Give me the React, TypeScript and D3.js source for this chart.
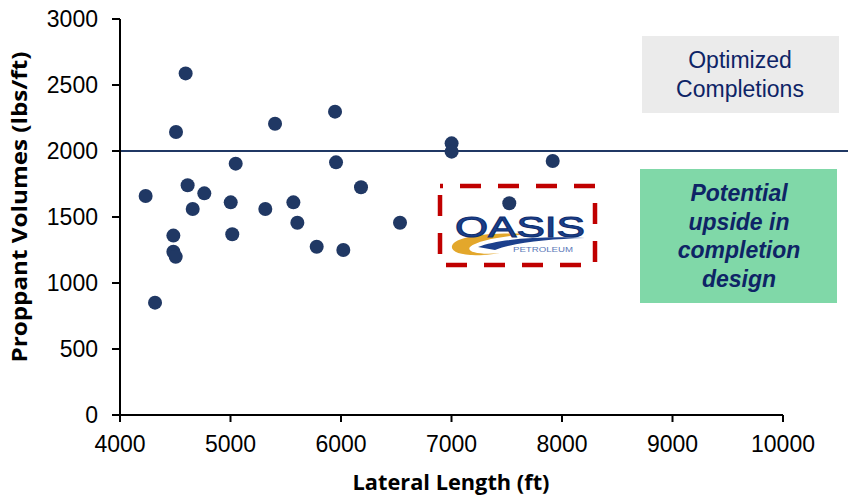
import React from "react";
import * as d3 from "d3";

const lateralLength = [4232, 4594, 4507, 5047, 4612, 4763, 4658, 5002, 4483, 5016, 5403, 5315, 5946, 5955, 6181, 5569, 5605, 6534, 5780, 6021, 4483, 4504, 4317, 7001, 7001, 7916, 7523];
const proppant = [1659, 2588, 2144, 1904, 1740, 1679, 1561, 1611, 1359, 1369, 2207, 1561, 2298, 1914, 1725, 1611, 1457, 1457, 1275, 1250, 1237, 1199, 851, 2058, 1995, 1924, 1604];
const xTicks = [4000, 5000, 6000, 7000, 8000, 9000, 10000];
const yTicks = [0, 500, 1000, 1500, 2000, 2500, 3000];
const referenceLevel = 2000;

const W = 848, H = 495;
const NAVY = "#203864";
const TEXTNAVY = "#0E2466";

export default function App() {
  const x = d3.scaleLinear().domain([4000, 10000]).range([120, 783]);
  const y = d3.scaleLinear().domain([0, 3000]).range([415, 19]);
  const pts = lateralLength.map((v, i) => ({ x: v, y: proppant[i] }));
  const tickFont = "'Liberation Sans', Arial, sans-serif";
  const titleFont = "'Open Sans', sans-serif";
  return (
    <svg width={W} height={H} style={{ position: "absolute", left: 0, top: 0, background: "#fff" }}>
      {/* annotation boxes */}
      <rect x={642} y={36} width={197} height={77} fill="#EBEBEB" />
      <text x={740} y={68} textAnchor="middle" fontFamily={tickFont} fontSize={23} fill={TEXTNAVY}>Optimized</text>
      <text x={740} y={97} textAnchor="middle" fontFamily={tickFont} fontSize={23} fill={TEXTNAVY}>Completions</text>

      <rect x={640} y={169} width={197} height={134} fill="#80D8A8" />
      {["Potential", "upside in", "completion", "design"].map((t, i) => (
        <text key={t} x={739} y={201 + i * 28.5} textAnchor="middle" fontFamily={tickFont} fontSize={23} fontWeight="bold" fontStyle="italic" fill={TEXTNAVY}>{t}</text>
      ))}

      {/* logo */}
      <g>
        <path d="M452,246 C455,236 490,232 530,234 C505,236 478,240 470,247 C466,252 480,255 500,253 C470,258 450,254 452,246 Z" fill="#E3A72B" />
        <path d="M478,247 C500,238 550,236 585,238 C550,239 515,242 495,250 Z" fill="#1B3F8C" />
        <text x={455} y={237} fontFamily={tickFont} fontSize={29} textLength={130} lengthAdjust="spacingAndGlyphs" fill="#1B3F8C" stroke="#0F2F6F" strokeWidth={1}>OASIS</text>
        <text x={513} y={252} fontFamily={tickFont} fontSize={7} textLength={60} lengthAdjust="spacingAndGlyphs" fill="#5A78B8">PETROLEUM</text>
      </g>
      <rect x={440} y={186} width={155} height={79} fill="none" stroke="#C00000" strokeWidth={4.5} strokeDasharray="21 17" strokeDashoffset={-20} />

      {/* reference line */}
      <line x1={x(4000)} x2={W} y1={y(referenceLevel)} y2={y(referenceLevel)} stroke={NAVY} strokeWidth={2.2} />

      {/* points */}
      {pts.map((p, i) => (
        <circle key={i} cx={x(p.x)} cy={y(p.y)} r={7} fill={NAVY} />
      ))}

      {/* axes */}
      <line x1={x(4000)} x2={x(4000)} y1={y(3000)} y2={y(0)} stroke="#000" strokeWidth={2} />
      <line x1={x(4000)} x2={x(10000)} y1={y(0)} y2={y(0)} stroke="#000" strokeWidth={2} />
      {yTicks.map((t) => (
        <g key={"y" + t}>
          <line x1={x(4000) - 8} x2={x(4000)} y1={y(t)} y2={y(t)} stroke="#000" strokeWidth={2} />
          <text x={98} y={y(t)} dy="0.36em" textAnchor="end" fontFamily={tickFont} fontSize={23} fill="#000">{t}</text>
        </g>
      ))}
      {xTicks.map((t) => (
        <g key={"x" + t}>
          <line x1={x(t)} x2={x(t)} y1={y(0)} y2={y(0) + 7} stroke="#000" strokeWidth={2} />
          <text x={x(t)} y={452} textAnchor="middle" fontFamily={tickFont} fontSize={23} fill="#000">{t}</text>
        </g>
      ))}
      <text x={451} y={490} textAnchor="middle" fontFamily={titleFont} fontWeight="bold" fontSize={22} textLength={197} lengthAdjust="spacingAndGlyphs" fill="#000">Lateral Length (ft)</text>
      <text transform={`translate(27,207) rotate(-90)`} textAnchor="middle" fontFamily={titleFont} fontWeight="bold" fontSize={22} textLength={311} lengthAdjust="spacingAndGlyphs" fill="#000">Proppant Volumes (lbs/ft)</text>
    </svg>
  );
}
